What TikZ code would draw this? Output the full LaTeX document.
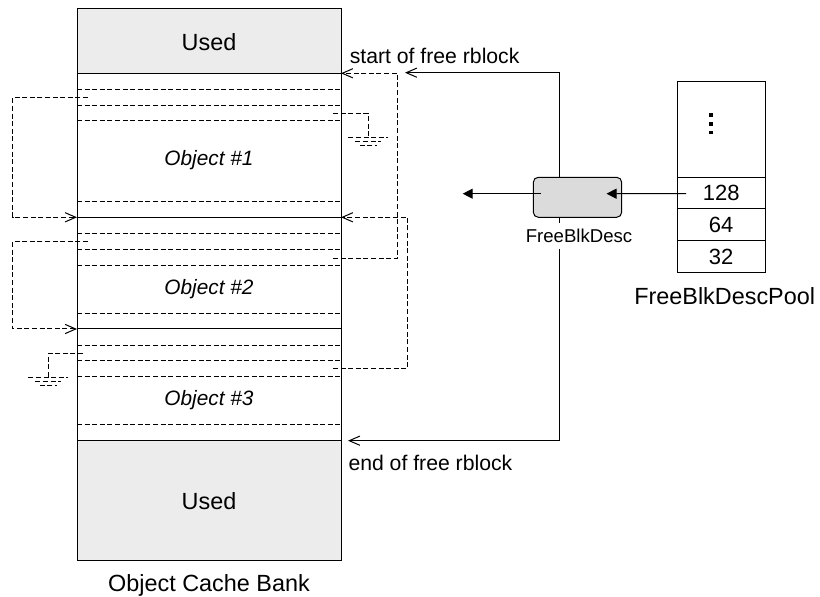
\documentclass[tikz,border=0pt]{standalone}
\usepackage{fontspec}
\setmainfont{Liberation Sans}
\usetikzlibrary{arrows.meta,positioning}

\tikzset{
  used/.style={draw, fill=gray!15},
  slot/.style={dash pattern=on 2.5pt off 1.3pt},
  link/.style={slot, -{Straight Barb[length=5.3pt,width=4.6pt]}},
  ptr/.style={-{Straight Barb[length=5.3pt,width=4.6pt]}},
  push/.style={-{Triangle[length=5pt,width=5pt]}},
  big/.style={font=\fontsize{11.7}{14}\selectfont, inner sep=0pt},
  note/.style={font=\fontsize{10.6}{13}\selectfont, inner sep=0pt},
  small/.style={font=\fontsize{9.3}{11}\selectfont},
  obj/.style={font=\fontsize{10.4}{13}\selectfont\itshape, inner sep=0pt},
  desc/.style={draw, fill=gray!28, rounded corners=2.5pt, minimum width=44.2pt, minimum height=20pt},
  cell/.style={draw, minimum width=43.85pt, outer sep=0pt, inner sep=0pt, font=\fontsize{11}{13}\selectfont},
  earth/.pic={\draw[slot] (-20,0) -- (20,0) (-13,4.3) -- (13,4.3) (-8.5,8.7) -- (8.5,8.7);}
}

\begin{document}
\begin{tikzpicture}[x=0.5pt, y=-0.5pt, line width=0.5pt]
    \useasboundingbox (0,0) rectangle (820,597);

    % object cache bank
    \draw[used] (77,9) rectangle (341,73.3);
    \draw[used] (77,440.7) rectangle (341,560.5);
    \draw (77,73.3) -- (77,440.7) (341,73.3) -- (341,440.7);
    \foreach \y in {217.3,329}
        \draw (77,\y) -- (341,\y);
    \foreach \y in {89.3,105.3,121,201.7,233.3,249.3,265.3,313.3,345.3,361,377,425}
        \draw[slot] (77,\y) -- (341,\y);

    \node[big, anchor=base] (usedtop) at (209,50.7) {Used};
    \node[obj, anchor=base] (obj1) at (209,165.6) {Object \#1};
    \node[obj, anchor=base] (obj2) at (209,294.3) {Object \#2};
    \node[obj, anchor=base] (obj3) at (209,405.5) {Object \#3};
    \node[big, anchor=base] (usedbot) at (209,510) {Used};
    \node[big, anchor=base] (bank) at (209,591.5) {Object Cache Bank};

    % slot pointers
    \coordinate (next1) at (88,97.7);
    \coordinate (next2) at (88,241.3);
    \coordinate (head2) at (77,217.3);
    \coordinate (head3) at (77,329);
    \coordinate (nil1) at (333,113.3);
    \coordinate (nil3) at (83,353.3);
    \coordinate (prev2) at (333,258.3);
    \coordinate (prev3) at (333,368.5);
    \coordinate (head1r) at (341,73.3);
    \coordinate (head2r) at (341,217.3);

    \draw[link] (next1) -- (12.7,97.7) |- (head2);
    \draw[link] (next2) -- (12.7,241.3) |- (head3);
    \draw[slot] (nil1) -| (368.3,137.3);
    \pic at (368.3,137.3) {earth};
    \draw[slot] (nil3) -| (48.3,377.3);
    \pic at (48.3,377.3) {earth};
    \draw[link] (prev2) -| (397.7,73.3) -- (head1r);
    \draw[link] (prev3) -| (407.7,217.3) -- (head2r);

    % free block descriptor
    \node[desc] (desc) at (577.5,197.3) {};
    \coordinate (start) at (405,72.7);
    \coordinate (end) at (348,440.7);
    \coordinate (out) at (462.7,193.7);
    \draw[ptr] ([xshift=-9.25pt]desc.north) |- (start);
    \draw[ptr] ([xshift=-9.25pt]desc.south) |- (end);
    \draw[push] ([shift={(8.2,-3.6)}]desc.west) -- (out);
    \node[small, fill=white, inner sep=3pt, anchor=base] (desclabel) at (579,242.7) {FreeBlkDesc};

    \node[note, anchor=base west] (startlabel) at (349.3,63.3) {start of free rblock};
    \node[note, anchor=base west] (endlabel) at (348,470.7) {end of free rblock};

    % descriptor pool
    \node[cell, minimum height=47.8pt, anchor=north west] (rest) at (677.3,81.7) {};
    \node[cell, minimum height=15.85pt, below=0pt of rest] (c128) {128};
    \node[cell, minimum height=16pt, below=0pt of c128] (c64) {64};
    \node[cell, minimum height=15.65pt, below=0pt of c64] (c32) {32};
    \foreach \y in {115,124,132.7}
        \fill (709.4,\y-1.8) rectangle ++(3.8,3.6);
    \draw[push] ([shift={(8.7,0.5)}]c128.west) -- ([shift={(-15.7,-3.6)}]desc.east);
    \node[big, anchor=base] (poolname) at (724.7,305) {FreeBlkDescPool};
\end{tikzpicture}
\end{document}
